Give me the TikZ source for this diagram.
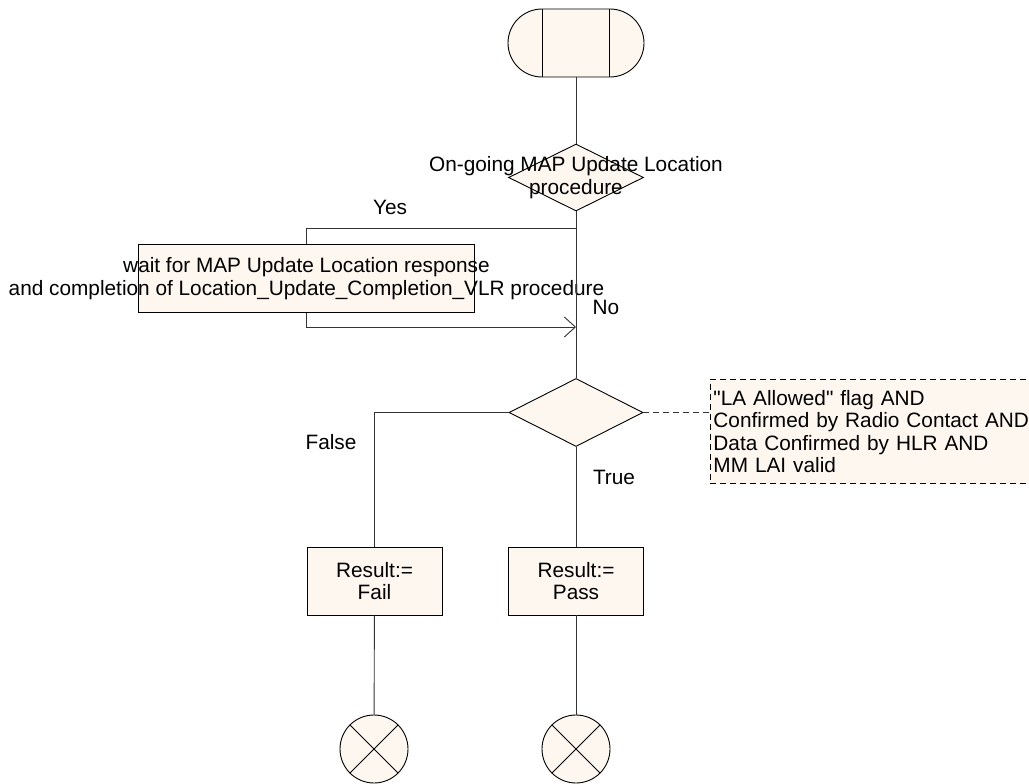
\documentclass[tikz,border=0pt]{standalone}
\usepackage{fontspec}
\setmainfont{Liberation Sans}
\usetikzlibrary{shapes.geometric,arrows.meta}
\definecolor{sdlfill}{HTML}{FDF7F0}

\begin{document}
\begin{tikzpicture}[x=1pt,y=-1pt,>={Straight Barb[length=11pt,width=20pt]},
    every node/.style={font=\fontsize{20.8}{22.5}\selectfont,inner sep=0pt},
    sdl/.style={draw=black,fill=sdlfill,line width=0.9pt},
    decision/.style={sdl,diamond,minimum width=135pt,minimum height=67pt},
    taskbox/.style={sdl,rectangle,minimum width=135pt,minimum height=68pt},
    stopsym/.style={sdl,circle,minimum size=68pt},
    conn/.style={draw=black!80,line width=0.9pt}]
          \clip (0,0) rectangle (1029,784);
          \useasboundingbox (0,0) rectangle (1029,784);
          \node[sdl,rectangle,rounded corners=34pt,minimum width=136pt,minimum height=68pt] (start) at (576,43) {};
          \draw[sdl] ([xshift=-33.5pt]start.north) -- ([xshift=-33.5pt]start.south);
          \draw[sdl] ([xshift=33.5pt]start.north) -- ([xshift=33.5pt]start.south);
          \node[decision] (ongoing) at (576,177.5) {};
          \node[align=center] (ongoingtxt) at (ongoing.center) {On-going MAP Update Location\\procedure};
          \node[sdl,rectangle,minimum width=336pt,minimum height=68pt] (wait) at (306.5,278.5) {};
          \node[align=center] (waittxt) at (wait.center) {wait for MAP Update Location response\\and completion of Location\_Update\_Completion\_VLR procedure};
          \coordinate (yesfork) at (576,228);
          \coordinate (nojoin) at (576,327);
          \node[decision,minimum width=134pt,minimum height=68pt] (laflag) at (576,412.5) {};
          \node[sdl,dash pattern=on 6pt off 4pt,rectangle,anchor=west,align=left,text width=320pt,
                inner xsep=3pt,minimum height=104pt] (cond) at (710,431.5) {\textquotedbl LA Allowed\textquotedbl{} flag AND\\Confirmed by Radio Contact AND\\Data Confirmed by HLR AND\\MM LAI valid};
          \node[taskbox,align=center] (fail) at (374.5,581) {Result:=\\Fail};
          \node[taskbox,align=center] (pass) at (576,581) {Result:=\\Pass};
          \node[stopsym] (stopfail) at (374,749) {};
          \node[stopsym] (stoppass) at (576,749) {};
          \foreach \s in {stopfail,stoppass} {
            \draw[sdl] (\s.north west) -- (\s.south east);
            \draw[sdl] (\s.north east) -- (\s.south west);
          }
          \draw[conn] (start) -- (ongoing);
          \draw[conn] (ongoing) -- (laflag);
          \draw[conn] (yesfork) -| (wait.north);
          \draw[conn,->] (wait.south) |- (nojoin);
          \draw[conn] (laflag.west) -| (fail.north);
          \draw[conn] (laflag) -- (pass);
          \draw[conn] (fail) -- (stopfail);
          \draw[conn] (pass) -- (stoppass);
          \draw[conn,dash pattern=on 6pt off 4pt] (laflag.east) -- (laflag.east -| cond.west);
          \node (yes) at (390,207) {Yes};
          \node (no) at (606,307) {No};
          \node (false) at (331,442) {False};
          \node (true) at (614,477) {True};
        \end{tikzpicture}
\end{document}
